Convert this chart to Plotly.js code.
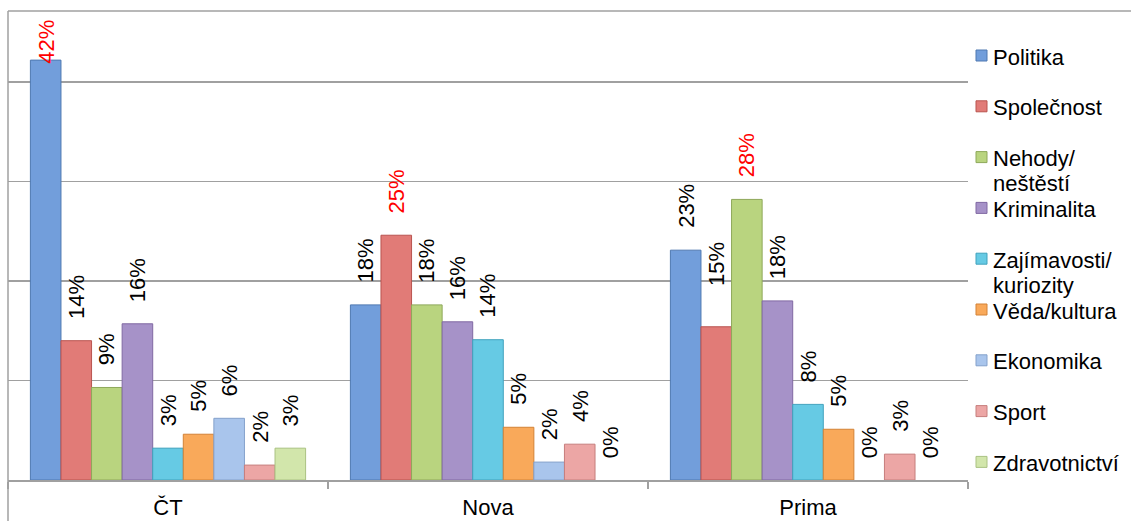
<!DOCTYPE html>
<html><head><meta charset="utf-8">
<script src="https://cdn.plot.ly/plotly-3.0.1.min.js"></script>
<style>html,body{margin:0;padding:0;background:#fff}#chart{width:1131px;height:521px}</style>
</head><body><div id="chart"></div>
<script>
// ---- data ----
const channels = ['ČT', 'Nova', 'Prima'];
const topics = ['Politika', 'Společnost', 'Nehody/\nneštěstí', 'Kriminalita', 'Zajímavosti/\nkuriozity', 'Věda/kultura', 'Ekonomika', 'Sport', 'Zdravotnictví'];
const politika      = [42.2, 17.6, 23.1];
const spolecnost    = [14.0, 24.6, 15.4];
const nehody        = [9.3, 17.6, 28.2];
const kriminalita   = [15.7, 15.9, 18.0];
const zajimavosti   = [3.2, 14.1, 7.6];
const veda          = [4.6, 5.3, 5.1];
const ekonomika     = [6.2, 1.8, 0];
const sport         = [1.5, 3.6, 2.6];
const zdravotnictvi = [3.2, 0, 0];
const seriesValues = [politika, spolecnost, nehody, kriminalita, zajimavosti, veda, ekonomika, sport, zdravotnictvi];

// ---- styles ----
const FONT = 'Liberation Sans, Arial, sans-serif';
const colors = ['#729edb', '#e17b77', '#b9d47f', '#a692c8', '#66cae4', '#f9a95a', '#a9c5ec', '#eca6a5', '#d2e6ab'];
const lines  = ['#4f79b1', '#b9544f', '#8ea85a', '#8069a3', '#41a2bd', '#d38236', '#84a1cb', '#c67e7d', '#abc283'];
const W = 1131, H = 521, L = 8, T = 11, B = 41, R = 163;
const plotW = W - L - R, plotH = H - T - B;
const bargap = 0.14;

const traces = seriesValues.map((vals, i) => ({
  type: 'bar', x: channels, y: vals, name: topics[i].replace('\n', ' '),
  marker: {color: colors[i], line: {color: lines[i], width: vals.map(v => v > 0 ? 1 : 0)}},
  showlegend: false, hoverinfo: 'x+y+name'
}));

// value labels
const annotations = [];
const n = seriesValues.length;
const bw = (1 - bargap) / n;
channels.forEach((ch, c) => {
  const maxV = Math.max(...seriesValues.map(s => s[c]));
  seriesValues.forEach((s, i) => {
    const v = s[c];
    let shift = 20;
    if (v === maxV && c === 0) shift = -6;
    if (c === 2 && i === 1) shift = 39;
    annotations.push({
      x: c - (1 - bargap) / 2 + (i + 0.5) * bw, y: v, xref: 'x', yref: 'y',
      text: Math.round(v) + '%', showarrow: false, textangle: -90,
      xanchor: 'center', yanchor: 'bottom', yshift: shift,
      font: {family: FONT, size: 22, color: v === maxV ? '#ff0000' : '#000000'}
    });
  });
});

// legend (manual)
const shapes = [];
const px2x = px => (px - L) / plotW;
const px2y = py => (H - B - py) / plotH;
topics.forEach((t, i) => {
  const cy = 57 + i * 50.8;
  shapes.push({type: 'rect', xref: 'paper', yref: 'paper',
    x0: px2x(976), x1: px2x(987), y0: px2y(cy + 4), y1: px2y(cy - 7),
    fillcolor: colors[i], line: {color: lines[i], width: 1}});
  t.split('\n').forEach((ln, k) => {
    annotations.push({xref: 'paper', yref: 'paper', x: px2x(991), y: px2y(cy + k * 25),
      xanchor: 'left', yanchor: 'middle', align: 'left', showarrow: false, text: ln,
      font: {family: FONT, size: 22, color: '#000'}});
  });
});
// chart border lines (top and left)
shapes.push({type: 'line', xref: 'paper', yref: 'paper', x0: 0, x1: px2x(W), y0: 1, y1: 1, line: {color: '#a0a0a0', width: 1.5}});
shapes.push({type: 'line', xref: 'paper', yref: 'paper', x0: 0, x1: 0, y0: 1, y1: px2y(H), line: {color: '#a0a0a0', width: 1.5}});

const layout = {
  width: W, height: H,
  margin: {l: L, r: R, t: T, b: B, pad: 0},
  paper_bgcolor: '#ffffff', plot_bgcolor: '#ffffff',
  barmode: 'group', bargap: bargap, bargroupgap: 0,
  showlegend: false,
  xaxis: {type: 'category', showgrid: false, showline: true, linecolor: '#a0a0a0', linewidth: 1.5,
    ticks: 'outside', tickson: 'boundaries', ticklen: 7, tickcolor: '#a0a0a0', tickwidth: 1.5,
    ticklabelstandoff: 7,
    tickfont: {family: FONT, size: 22, color: '#000'}, fixedrange: true},
  yaxis: {range: [0, (H - B - T) / 9.95], showgrid: true, gridcolor: '#a0a0a0', gridwidth: 1.5,
    dtick: 10, showticklabels: false, zeroline: false, showline: false, fixedrange: true},
  annotations: annotations, shapes: shapes,
  font: {family: FONT}
};
Plotly.newPlot('chart', traces, layout, {displayModeBar: false, staticPlot: true});
</script></body></html>
